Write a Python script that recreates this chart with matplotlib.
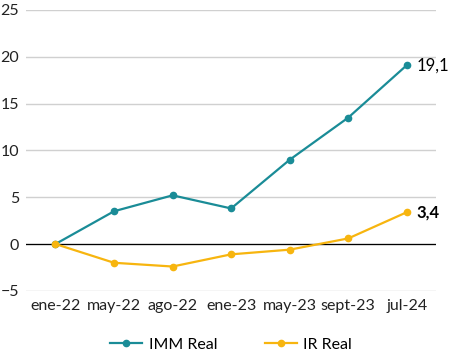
import matplotlib
matplotlib.use("Agg")
import matplotlib.pyplot as plt
import numpy as np

plt.rcParams['font.family'] = ['Lato', 'DejaVu Sans']

labels = ['ene-22', 'may-22', 'ago-22', 'ene-23', 'may-23', 'sept-23', 'jul-24']
imm_real = [0.0, 3.5, 5.2, 3.8, 9.0, 13.5, 19.1]
ir_real = [0.0, -2.0, -2.4, -1.1, -0.6, 0.6, 3.4]

teal = '#1a8c97'
gold = '#f7b50f'

fig = plt.figure(figsize=(4.51, 3.53), dpi=100)
ax = fig.add_axes([0.058, 0.176, 0.909, 0.796])

x = np.arange(len(labels))
ax.plot(x, imm_real, color=teal, lw=1.6, marker='o', ms=4.5, label='IMM Real', zorder=3)
ax.plot(x, ir_real, color=gold, lw=1.6, marker='o', ms=4.5, label='IR Real', zorder=3)

ax.annotate('19,1', xy=(x[-1], imm_real[-1]), xytext=(7, 0),
            textcoords='offset points', va='center', ha='left', fontsize=12)
ax.annotate('3,4', xy=(x[-1], ir_real[-1]), xytext=(7, 0),
            textcoords='offset points', va='center', ha='left', fontsize=12,
            weight='bold')

ax.set_xlim(-0.5, 6.5)
ax.set_ylim(-5, 25)
ax.set_yticks(range(-5, 26, 5))
ax.set_xticks(x)
ax.set_xticklabels(labels)
ax.tick_params(length=0, labelsize=11.5, colors='#222222')
ax.tick_params(axis='y', pad=5)
ax.tick_params(axis='x', pad=6)

for s in ax.spines.values():
    s.set_visible(False)
ax.grid(axis='y', color='#d0d0d0', lw=1)
ax.set_axisbelow(True)
ax.axhline(0, color='black', lw=0.9, zorder=2)

ax.legend(loc='upper center', bbox_to_anchor=(0.5, -0.115), ncol=2, frameon=False,
          fontsize=11.5, handlelength=2.0, columnspacing=3.0, handletextpad=0.4)

plt.savefig('out.png', dpi=100)
